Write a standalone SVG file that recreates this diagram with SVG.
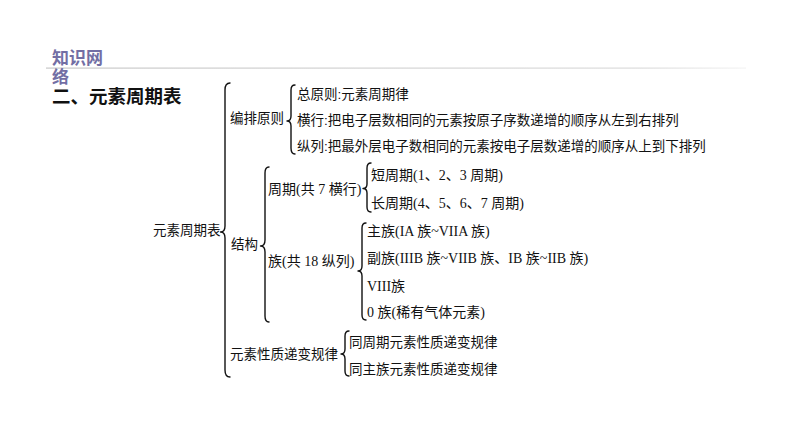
<svg xmlns="http://www.w3.org/2000/svg" width="794" height="447" viewBox="0 0 794 447">
<defs>
<linearGradient id="hr" x1="0" y1="0" x2="1" y2="0">
<stop offset="0" stop-color="#c8c8c8"/>
<stop offset="0.85" stop-color="#dcdcdc"/>
<stop offset="1" stop-color="#f4f4f4"/>
</linearGradient>
<style>
.t{font-family:"Liberation Sans","Noto Sans CJK SC",sans-serif;font-size:13.5px;fill:#111}
.s{font-family:"Liberation Serif","Noto Sans CJK SC",serif;font-size:14px;fill:#111}
.h{font-family:"Noto Sans CJK SC",sans-serif;font-size:17px;font-weight:bold;fill:#726ea4}
.b{fill:none;stroke:#111;stroke-width:1.4;stroke-linecap:round;stroke-linejoin:round}
</style>
</defs>
<rect width="794" height="447" fill="#ffffff"/>
<g id="header">
<rect x="46" y="67.5" width="700" height="1.2" fill="url(#hr)"/>
<text class="h" x="52" y="64">知识网</text>
<text class="h" x="52" y="83">络</text>
<text x="52" y="103" style="font-family:'Noto Sans CJK SC',sans-serif;font-size:18.5px;font-weight:bold;fill:#111">二、元素周期表</text>
</g>
<g id="connectors">
<path class="b" d="M230 83 Q225 83 225 90 L225 226 Q225 232 220.5 232 Q225 232 225 238 L225 370 Q225 377 230 377"/>
<path class="b" d="M295 85 Q291 85 291 90 L291 116 Q291 121 287 121 Q291 121 291 126 L291 148 Q291 154 295 154"/>
<path class="b" d="M269 167 Q265 167 265 173 L265 240 Q265 246 260.5 246 Q265 246 265 252 L265 316 Q265 322 269 322"/>
<path class="b" d="M371 163 Q367 163 367 168 L367 184 Q367 188.5 363 188.5 Q367 188.5 367 193 L367 207 Q367 212 371 212"/>
<path class="b" d="M366 223 Q362 223 362 228 L362 266 Q362 271 358 271 Q362 271 362 276 L362 315 Q362 320 366 320"/>
<path class="b" d="M349 331 Q345 331 345 336 L345 349 Q345 354 341 354 Q345 354 345 359 L345 371 Q345 376 349 376"/>
</g>
<g id="root"><text class="t" x="153" y="235">元素周期表</text></g>
<g id="n-bianpai"><text class="t" x="230" y="123">编排原则</text></g>
<g id="n-zong"><text class="t" x="297" y="99">总原则:元素周期律</text></g>
<g id="n-hengxing"><text class="t" x="297" y="125">横行:把电子层数相同的元素按原子序数递增的顺序从左到右排列</text></g>
<g id="n-zonglie"><text class="t" x="297" y="151">纵列:把最外层电子数相同的元素按电子层数递增的顺序从上到下排列</text></g>
<g id="n-jiegou"><text class="t" x="231" y="249">结构</text></g>
<g id="n-zhouqi"><text class="s" x="268" y="194">周期(共 7 横行)</text></g>
<g id="n-duan"><text class="s" x="371" y="180">短周期(1、2、3 周期)</text></g>
<g id="n-chang"><text class="s" x="371" y="208">长周期(4、5、6、7 周期)</text></g>
<g id="n-zu"><text class="s" x="268" y="266">族(共 18 纵列)</text></g>
<g id="n-zhuzu"><text class="s" x="367" y="236">主族(IA 族~VIIA 族)</text></g>
<g id="n-fuzu"><text class="s" x="367" y="263">副族(IIIB 族~VIIB 族、IB 族~IIB 族)</text></g>
<g id="n-viii"><text class="s" x="367" y="291">VIII族</text></g>
<g id="n-0zu"><text class="s" x="367" y="317">0 族(稀有气体元素)</text></g>
<g id="n-xingzhi"><text class="t" x="230" y="359">元素性质递变规律</text></g>
<g id="n-tongzhouqi"><text class="t" x="349" y="347">同周期元素性质递变规律</text></g>
<g id="n-tongzhuzu"><text class="t" x="349" y="374">同主族元素性质递变规律</text></g>
</svg>
